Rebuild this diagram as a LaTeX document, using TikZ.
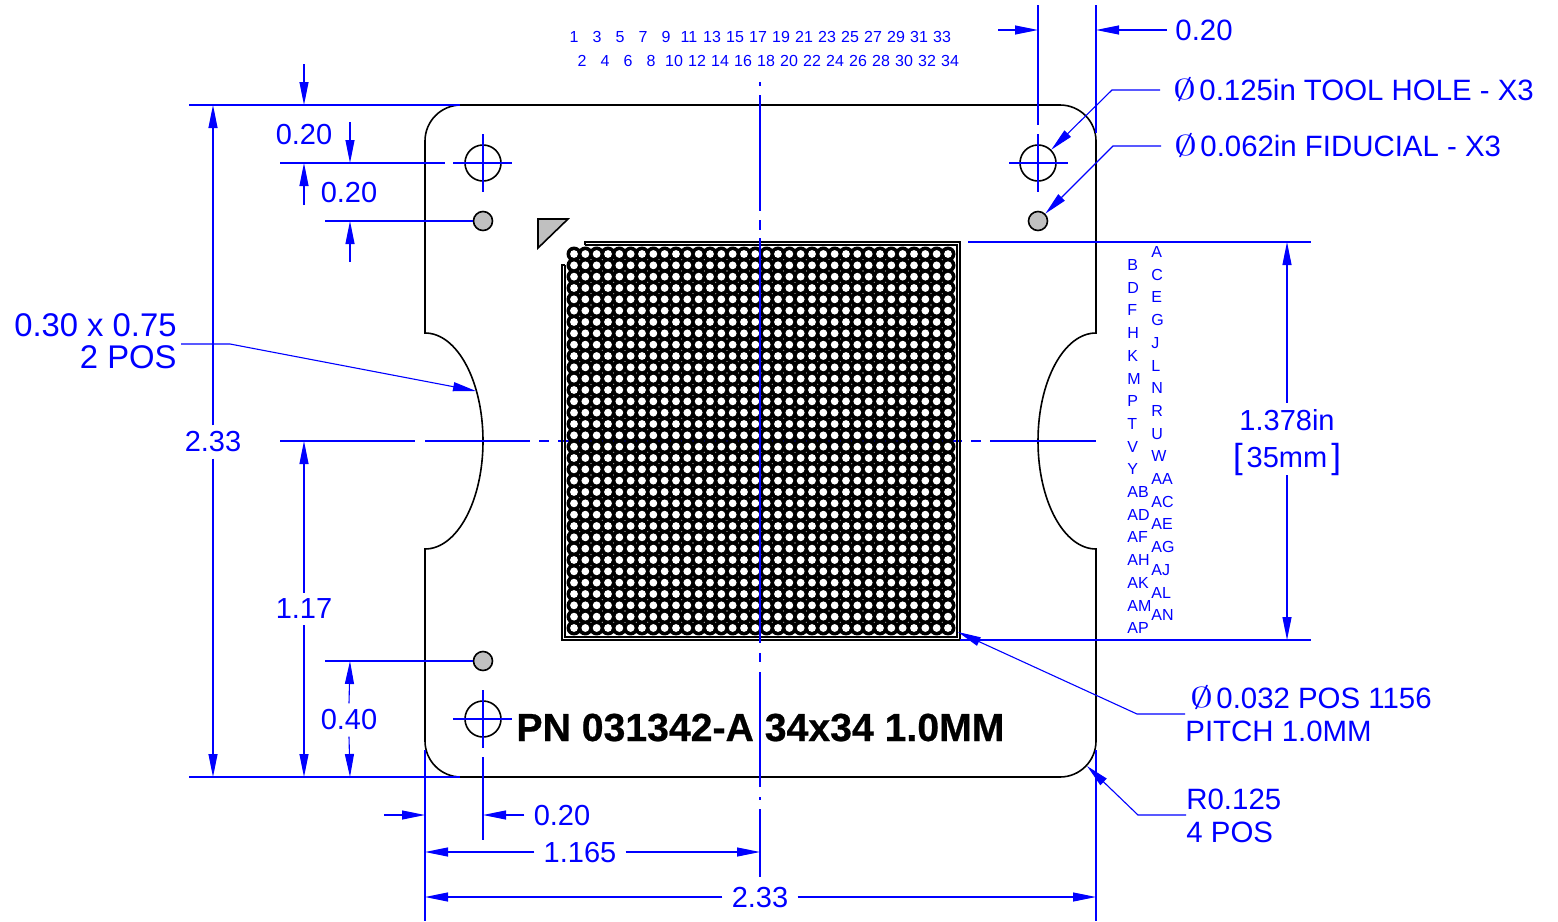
\documentclass[tikz,border=0pt]{standalone}
\usepackage{fontspec}
\setmainfont{Liberation Sans}
\newfontfamily\partfont[UprightFont=* Bold, FakeBold=0.6]{Liberation Sans}
\usepackage{tikz}
\usetikzlibrary{arrows.meta}

\newcommand{\diasym}{\makebox[13pt][l]{\raisebox{0.4pt}{\scalebox{1.6}[1.0]{$\emptyset$}}}}

\begin{document}
\begin{tikzpicture}[x=0.5pt, y=-0.5pt,
    >={Triangle[length=11.5pt,width=4.5pt]},
    every node/.style={text=dimblue},
    partline/.style={draw=black, line width=0.8pt},
    dimline/.style={draw=dimblue, line width=0.55pt},
    holecircle/.style={circle, draw=black, line width=0.8pt, minimum size=18pt, inner sep=0pt},
    fiducial/.style={circle, draw=black, fill=partgray, line width=0.8pt, minimum size=9.5pt, inner sep=0pt},
    dimtext/.style={font=\fontsize{14.5}{14.5}\selectfont, inner xsep=4.5pt, inner ysep=3pt},
    sidetext/.style={font=\fontsize{14.7}{14.7}\selectfont, inner sep=0pt},
    slottext/.style={font=\fontsize{16.4}{16.4}\selectfont, inner sep=0pt},
    smalltext/.style={font=\fontsize{8}{8}\selectfont, inner sep=0pt}]
    \definecolor{dimblue}{RGB}{0,0,255}
    \definecolor{partgray}{RGB}{192,192,192}
    \useasboundingbox (0,0) rectangle (1558,921);

    % board outline
    \draw[partline] (461,105) -- (1060,105) arc[start angle=-90, end angle=0, radius=36]
        -- (1096,333) .. controls (1064,333) and (1038,381) .. (1038,441)
        .. controls (1038,501) and (1064,549) .. (1096,549)
        -- (1096,741) arc[start angle=0, end angle=90, radius=36]
        -- (461,777) arc[start angle=90, end angle=180, radius=36]
        -- (425,549) .. controls (457,549) and (483,501) .. (483,441)
        .. controls (483,381) and (457,333) .. (425,333)
        -- (425,141) arc[start angle=180, end angle=270, radius=36];

    % holes, fiducials and pin 1 mark
    \node[holecircle] (holeTL) at (483,163) {};
    \node[holecircle] (holeTR) at (1038,163) {};
    \node[holecircle] (holeBL) at (483,719) {};
    \node[fiducial] (fidTL) at (483,221) {};
    \node[fiducial] (fidTR) at (1038,221) {};
    \node[fiducial] (fidBL) at (483,661) {};
    \draw[partline, fill=partgray] (538,219) -- (568,219) -- (538,248) -- cycle;

    % horizontal center line, hidden by the grid
    \draw[dimline] (280,441) -- (415,441) (425,441) -- (530,441) (539,441) -- (549,441)
        (558,441) -- (962,441) (971,441) -- (981,441) (990,441) -- (1096,441);

    % ball grid
    \draw[partline] (585,245) -- (585,242) -- (960,242) -- (960,640) -- (562,640) -- (562,265) -- (565,265);
    \draw[partline] (585,245) -- (957,245) -- (957,637) -- (565,637) -- (565,265);
    \fill[black] \foreach \col in {0,...,33} { \foreach \row in {0,...,33} {
        (574+\col*11.333,254+\row*11.333) circle[radius=7.5] } };
    \fill[white] \foreach \col in {0,...,33} { \foreach \row in {0,...,33} {
        (574+\col*11.333,254+\row*11.333) circle[radius=3.9] } };

    % center lines
    \draw[dimline] (760,82) -- (760,86) (760,95) -- (760,211) (760,220) -- (760,230)
        (760,238) -- (760,643) (760,653) -- (760,662) (760,672) -- (760,787)
        (760,797) -- (760,800) (760,809) -- (760,877);
    \draw[dimline] (453,163) -- (512,163) (483,134) -- (483,192);
    \draw[dimline] (1009,163) -- (1068,163) (1038,134) -- (1038,192);
    \draw[dimline] (453,719) -- (512,719) (483,690) -- (483,748);

    % extension lines
    \draw[dimline] (189,105) -- (460,105);
    \draw[dimline] (189,777) -- (460,777);
    \draw[dimline] (280,163) -- (445,163);
    \draw[dimline] (325,221) -- (fidTL.west);
    \draw[dimline] (325,661) -- (fidBL.west);
    \draw[dimline] (968,242) -- (1311,242);
    \draw[dimline] (960,640) -- (1311,640);
    \draw[dimline] (1038,5) -- (1038,125);
    \draw[dimline] (1096,5) -- (1096,133);
    \draw[dimline] (425,750) -- (425,921);
    \draw[dimline] (1096,750) -- (1096,921);
    \draw[dimline] (483,757) -- (483,840);

    % left dimensions
    \node[dimtext] (heightall) at (213,442) {2.33};
    \draw[dimline,->] (heightall.north) -- (213,105);
    \draw[dimline,->] (heightall.south) -- (213,777);
    \draw[dimline,->] (304,64) -- (304,105);
    \draw[dimline,->] (350,122) -- (350,163);
    \draw[dimline,->] (304,205) -- (304,163);
    \draw[dimline,->] (350,262) -- (350,221);
    \node[dimtext] (holetop) at (304,135) {0.20};
    \node[dimtext] (fidtop) at (349,193) {0.20};
    \node[dimtext] (centerheight) at (304,609) {1.17};
    \draw[dimline,->] (centerheight.north) -- (304,441);
    \draw[dimline,->] (centerheight.south) -- (304,777);
    \node[dimtext] (fidbottom) at (349,720) {0.40};
    \draw[dimline,->] (fidbottom.north) -- (350,661);
    \draw[dimline,->] (fidbottom.south) -- (350,777);

    % slot note
    \node[slottext, anchor=base east] (slotsize) at (177,336) {0.30 x 0.75};
    \node[slottext, anchor=base east] (slotcount) at (177,368) {2 POS};
    \coordinate (slottip) at (476,391);
    \draw[dimline,->] (181,344) -- (230,344) -- (slottip);

    % bottom dimensions
    \draw[dimline,->] (384,815) -- (425,815);
    \node[dimtext] (holeleft) at (562,816) {0.20};
    \coordinate (holeleftend) at (483,815);
    \draw[dimline,->] (holeleft.west |- holeleftend) -- (holeleftend);
    \node[dimtext] (halfwidth) at (580,853) {1.165};
    \coordinate (halfL) at (425,852);
    \coordinate (halfR) at (760,852);
    \draw[dimline,->] (halfwidth.west |- halfL) -- (halfL);
    \draw[dimline,->] (halfwidth.east |- halfR) -- (halfR);
    \node[dimtext] (widthall) at (760,898) {2.33};
    \coordinate (widthL) at (425,897);
    \coordinate (widthR) at (1096,897);
    \draw[dimline,->] (widthall.west |- widthL) -- (widthL);
    \draw[dimline,->] (widthall.east |- widthR) -- (widthR);

    % part number
    \node[font=\fontsize{19.6}{19.6}\partfont, text=black, inner sep=0pt, anchor=base] (partnumber) at (760.5,741) {PN 031342-A 34x34 1.0MM};

    % top right dimension and notes
    \draw[dimline,->] (998,30) -- (1038,30);
    \node[sidetext, anchor=base west] (holeright) at (1175,40) {0.20};
    \draw[dimline,->] (1167,30) -- (1096,30);
    \node[sidetext, anchor=base west] (toolnote) at (1173,100) {\diasym 0.125in TOOL HOLE - X3};
    \coordinate (toolbend) at (1112,90);
    \draw[dimline,->] (1160,90) -- (toolbend) -- (holeTR.45);
    \node[sidetext, anchor=base west] (fidnote) at (1174,156) {\diasym 0.062in FIDUCIAL - X3};
    \coordinate (fidbend) at (1113,146);
    \draw[dimline,->] (1161,146) -- (fidbend) -- (fidTR.45);

    % grid size dimension
    \node[dimtext] (gridinch) at (1287,420) {1.378in};
    \node[dimtext, inner ysep=0pt] (gridmm) at (1287,459) {\raisebox{-0.3pt}{\scalebox{1.2}{[}}\hspace{2pt}35mm\hspace{2pt}\raisebox{-0.3pt}{\scalebox{1.2}{]}}};
    \draw[dimline,->] (gridinch.north) -- (1287,242);
    \draw[dimline,->] (1287,475) -- (1287,640);

    % ball and corner notes
    \node[sidetext, anchor=base west] (ballnote) at (1190,708) {\diasym 0.032 POS 1156};
    \node[sidetext, anchor=base west] (pitchnote) at (1185,741) {PITCH 1.0MM};
    \coordinate (balltip) at (958,632);
    \draw[dimline,->] (1185,714) -- (1137,714) -- (balltip);
    \node[sidetext, anchor=base west] (radiusnote) at (1186,809) {R0.125};
    \node[sidetext, anchor=base west] (radiuscount) at (1186,842) {4 POS};
    \coordinate (cornertip) at (1087,766);
    \draw[dimline,->] (1186,815) -- (1138,815) -- (cornertip);

    % column numbers
    \foreach \n in {0,...,16} {
        \pgfmathtruncatemacro{\oddnum}{2*\n+1}
        \pgfmathtruncatemacro{\evennum}{2*\n+2}
        \node[smalltext] (col\oddnum) at (574+\n*23,37) {\oddnum};
        \node[smalltext] (col\evennum) at (582+\n*23,61) {\evennum};
    }

    % row letters
    \foreach \lab [count=\i from 0] in {A,C,E,G,J,L,N,R,U,W,AA,AC,AE,AG,AJ,AL,AN}
        \node[smalltext, anchor=west] (row\lab) at (1151,252+\i*22.7) {\lab};
    \foreach \lab [count=\i from 0] in {B,D,F,H,K,M,P,T,V,Y,AB,AD,AF,AH,AK,AM,AP}
        \node[smalltext, anchor=west] (row\lab) at (1127,265+\i*22.7) {\lab};
\end{tikzpicture}
\end{document}
